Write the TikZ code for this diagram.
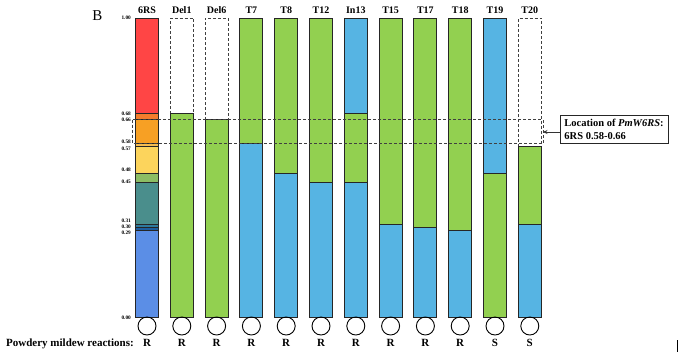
\documentclass[tikz,border=0pt]{standalone}
\usepackage{fontspec}
\setmainfont{Liberation Serif}
\usetikzlibrary{arrows.meta}
\definecolor{redA}{HTML}{FF4545}
\definecolor{orD}{HTML}{F47C2C}
\definecolor{orA}{HTML}{F7A024}
\definecolor{orL}{HTML}{F6BC50}
\definecolor{yelA}{HTML}{FCD45C}
\definecolor{oliA}{HTML}{8CBD64}
\definecolor{tealA}{HTML}{4A8E8C}
\definecolor{tbA}{HTML}{2E7A9E}
\definecolor{tbB}{HTML}{1E5E9E}
\definecolor{blueA}{HTML}{5B8EE6}
\definecolor{grn}{HTML}{92D050}
\definecolor{lbl}{HTML}{56B4E3}
\newcommand\segm[4]{\filldraw[fill=#4, barline] ({147+34.8*#1-11.5},{317-299*#2}) rectangle ({147+34.8*#1+11.5},{317-299*#3});}
\newcommand\emptyseg[2]{\draw[dashline] ({147+34.8*#1-11.5},{317-299*#2}) rectangle ({147+34.8*#1+11.5},18);}
\begin{document}
\begin{tikzpicture}[x=1pt,y=-1pt,
  barline/.style={draw=black!85, line width=1pt},
  dashline/.style={draw=black!75, dash pattern=on 3pt off 2pt, line width=0.85pt},
  collbl/.style={font=\bfseries\fontsize{10}{12}\selectfont, inner sep=0, anchor=base},
  ticklbl/.style={font=\bfseries\fontsize{5.3}{6}\selectfont, inner sep=0, anchor=east},
  reslbl/.style={font=\bfseries\fontsize{11}{13}\selectfont, inner sep=0, anchor=base},
  ring/.style={circle, draw=black, line width=0.9pt, minimum size=18pt, inner sep=0}]
\useasboundingbox (0,0) rectangle (680,360);
\fill[white] (0,0) rectangle (680,360);
% 6RS
\segm{0}{0.68}{1.00}{redA}
\segm{0}{0.66}{0.68}{orD}
\segm{0}{0.58}{0.66}{orA}
\segm{0}{0.57}{0.58}{orL}
\segm{0}{0.48}{0.57}{yelA}
\segm{0}{0.45}{0.48}{oliA}
\segm{0}{0.31}{0.45}{tealA}
\segm{0}{0.30}{0.31}{tbA}
\segm{0}{0.29}{0.30}{tbB}
\segm{0}{0.00}{0.29}{blueA}
% Del1
\emptyseg{1}{0.68}
\segm{1}{0.00}{0.68}{grn}
% Del6
\emptyseg{2}{0.66}
\segm{2}{0.00}{0.66}{grn}
% T7
\segm{3}{0.58}{1.00}{grn}
\segm{3}{0.00}{0.58}{lbl}
% T8
\segm{4}{0.48}{1.00}{grn}
\segm{4}{0.00}{0.48}{lbl}
% T12
\segm{5}{0.45}{1.00}{grn}
\segm{5}{0.00}{0.45}{lbl}
% In13
\segm{6}{0.68}{1.00}{lbl}
\segm{6}{0.45}{0.68}{grn}
\segm{6}{0.00}{0.45}{lbl}
% T15
\segm{7}{0.31}{1.00}{grn}
\segm{7}{0.00}{0.31}{lbl}
% T17
\segm{8}{0.30}{1.00}{grn}
\segm{8}{0.00}{0.30}{lbl}
% T18
\segm{9}{0.29}{1.00}{grn}
\segm{9}{0.00}{0.29}{lbl}
% T19
\segm{10}{0.48}{1.00}{lbl}
\segm{10}{0.00}{0.48}{grn}
% T20
\emptyseg{11}{0.57}
\segm{11}{0.31}{0.57}{grn}
\segm{11}{0.00}{0.31}{lbl}
% location dashed box
\draw[dashline] (132.7,{317-299*0.66}) rectangle (543,{317-299*0.58});
\coordinate (boxR) at (543,132);
% labels
\node[font=\fontsize{15}{17}\selectfont, inner sep=0] (panel) at (97.5,16) {B};
\foreach \n [count=\i from 0] in {6RS,Del1,Del6,T7,T8,T12,In13,T15,T17,T18,T19,T20}
  \node[collbl] (top\i) at ({147+34.8*\i},13.5) {\n};
\foreach \v/\yy [count=\i] in {1.00/18,0.68/113.5,0.66/120,0.58/141.8,0.57/148.3,0.48/169.3,0.45/182,0.31/220.5,0.30/226.6,0.29/232.7,0.00/318}
  \node[ticklbl] (tick\i) at (131,\yy) {\v};
\foreach \r [count=\i from 0] in {R,R,R,R,R,R,R,R,R,R,S,S}{
  \node[ring] (c\i) at ({147+34.8*\i},326) {};
  \node[reslbl] (r\i) at ({147+34.8*\i},346.5) {\r};
}
\node[reslbl, anchor=base west] (pmr) at (6,346.5) {Powdery mildew reactions:};
\node[draw=black!85, line width=0.9pt, align=left, anchor=west, inner xsep=4.5pt, inner ysep=4pt,
  font=\bfseries\fontsize{10.5}{12.7}\selectfont] (loc) at (559.5,129.5)
  {Location of \textit{PmW6RS}:\\6RS 0.58-0.66};
\draw[-{Stealth[length=4.5pt,width=4pt]}, line width=0.7pt, draw=black!80] (loc.west |- boxR) -- (boxR);
\draw[line width=1.6pt] (677.5,340) -- (677.5,352);
\end{tikzpicture}
\end{document}
